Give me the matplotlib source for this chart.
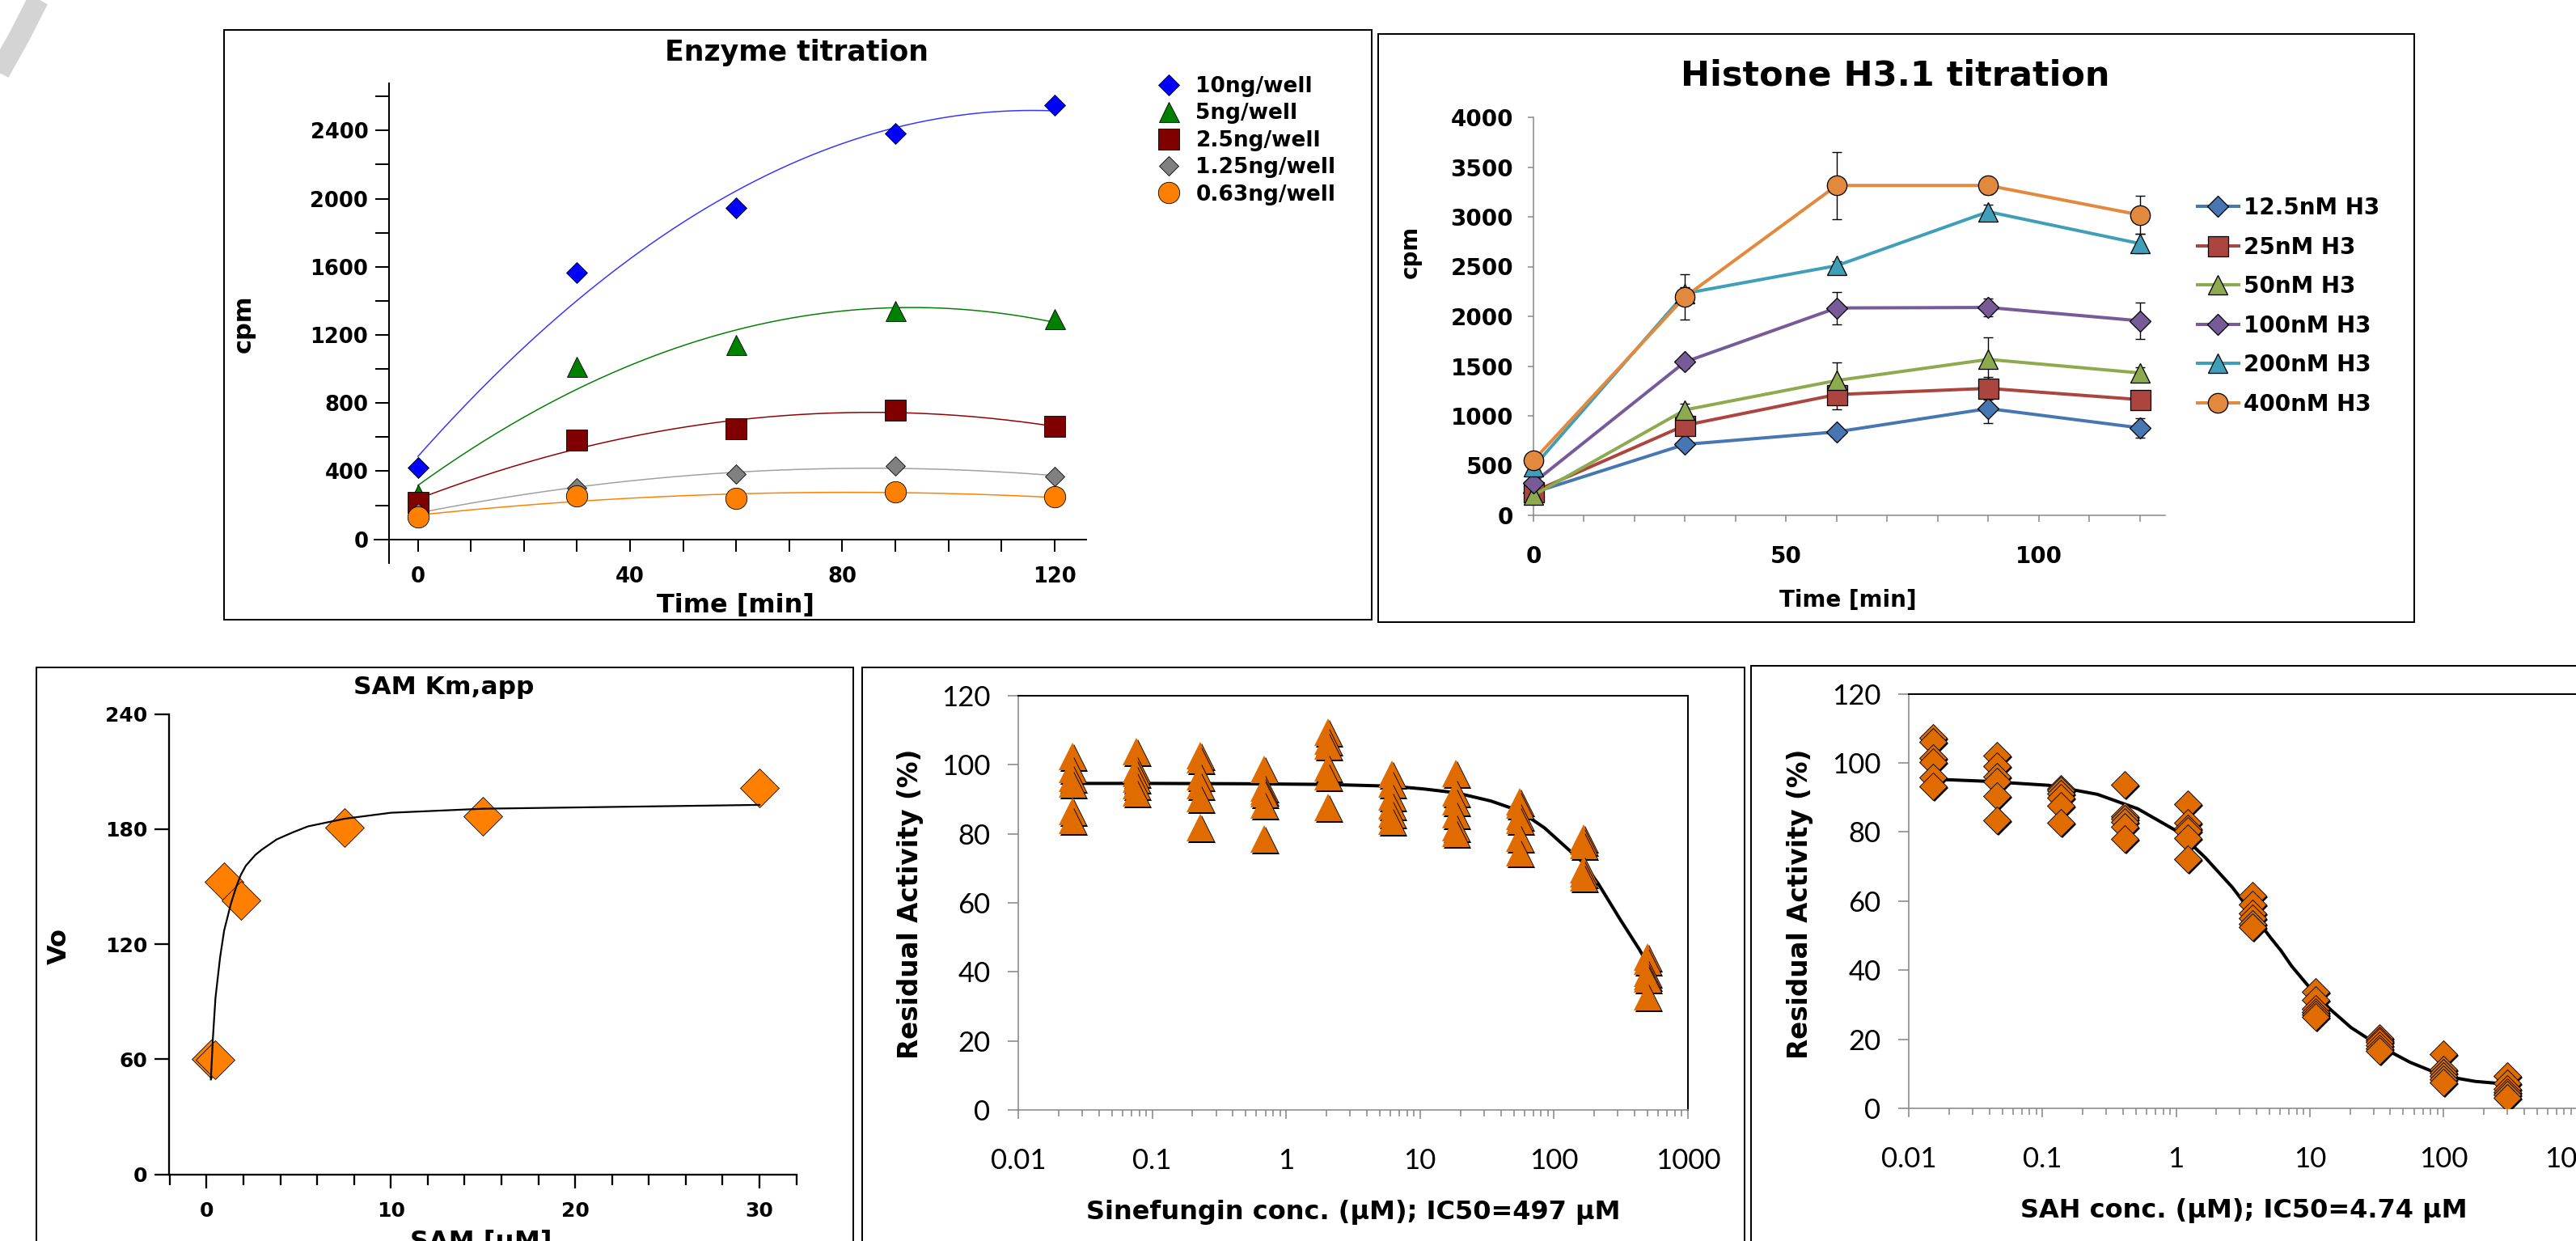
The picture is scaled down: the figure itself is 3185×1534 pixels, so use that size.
import numpy as np
import matplotlib
matplotlib.use("Agg")
import matplotlib.pyplot as plt
import matplotlib.transforms as mtransforms
from matplotlib.lines import Line2D
from matplotlib.patches import Rectangle
from matplotlib.ticker import LogLocator, NullFormatter

# ---------------- data ----------------
enz_time = [0, 30, 60, 90, 120]
enz_labels = ["10ng/well", "5ng/well", "2.5ng/well", "1.25ng/well", "0.63ng/well"]
enz_10 = [422, 1565, 1948, 2384, 2548]
enz_5 = [265, 1015, 1142, 1343, 1297]
enz_2_5 = [219, 584, 651, 757, 665]
enz_1_25 = [157, 305, 385, 431, 369]
enz_0_63 = [131, 254, 242, 277, 249]

h3_time = [0, 30, 60, 90, 120]
h3_labels = ["12.5nM H3", "25nM H3", "50nM H3", "100nM H3", "200nM H3", "400nM H3"]
h3_12_5 = [229, 713, 839, 1073, 879]
h3_25 = [236, 905, 1214, 1276, 1163]
h3_50 = [201, 1060, 1355, 1567, 1431]
h3_100 = [327, 1542, 2084, 2089, 1955]
h3_200 = [485, 2230, 2509, 3051, 2731]
h3_400 = [552, 2197, 3315, 3315, 3019]
h3_12_5_err = [30, 50, 30, 144, 100]
h3_25_err = [40, 60, 149, 114, 50]
h3_50_err = [90, 60, 179, 219, 60]
h3_100_err = [40, 60, 163, 88, 180]
h3_200_err = [40, 60, 40, 70, 100]
h3_400_err = [50, 228, 336, 86, 190]

sam_conc = [0.23, 0.47, 0.94, 1.875, 7.5, 15, 30]
sam_vo = [60.0, 59.7, 152.7, 142.9, 180.9, 186.8, 201.3]
sam_fit_conc = [0.23, 0.34, 0.48, 0.73, 0.95, 1.32, 1.61, 1.85, 2.12, 2.64, 3.0, 3.8, 4.68, 5.5,
                7.5, 10, 15, 30]
sam_fit_vo = [49.5, 71.0, 92.0, 113.1, 127.1, 141.2, 150.0, 156.0, 160.8, 166.5, 169.3, 174.6,
              178.3, 181.4, 185.4, 188.5, 190.6, 192.6]

sin_conc = [0.0254, 0.0762, 0.229, 0.686, 2.06, 6.17, 18.5, 55.6, 166.7, 500]
sin_resid = [
    [102.5, 98.6, 96.2, 94.4, 86.4, 84.0],
    [103.9, 98.6, 97.5, 95.8, 93.9, 91.8],
    [102.6, 101.5, 96.6, 93.9, 90.3, 81.8],
    [98.7, 93.2, 92.3, 91.6, 88.4, 78.6],
    [109.4, 106.8, 105.4, 99.2, 96.6, 87.7],
    [97.2, 94.5, 90.8, 88.1, 85.7, 83.7],
    [97.5, 91.8, 89.2, 85.5, 81.8, 80.1],
    [89.4, 88.4, 85.0, 84.0, 78.7, 74.5],
    [78.8, 77.9, 76.7, 69.6, 68.4, 67.3],
    [44.3, 43.1, 39.6, 38.7, 38.0, 32.8],
]
sin_fit_conc = [0.0254, 0.1, 0.5, 2.0, 6.17, 10.6, 18.5, 33.8, 55.6, 85, 142, 166.7, 216, 313, 432, 500]
sin_fit_resid = [94.6, 94.6, 94.5, 94.3, 93.8, 93.0, 91.9, 89.5, 86.6, 81.7, 73.9, 71.5, 65.3, 55.1, 46.6, 42.3]

sah_conc = [0.0152, 0.0457, 0.137, 0.41, 1.23, 3.7, 11.1, 33.3, 100, 300]
sah_resid = [
    [107.2, 106.2, 101.3, 100.3, 95.8, 93.2],
    [102.1, 99.0, 96.0, 94.6, 90.4, 83.4],
    [92.6, 92.0, 91.2, 90.0, 87.5, 82.6],
    [93.7, 84.5, 83.8, 83.0, 81.5, 78.1],
    [88.1, 82.6, 81.0, 80.3, 78.3, 72.1],
    [61.7, 59.0, 56.5, 55.0, 53.5, 52.5],
    [33.8, 31.3, 28.7, 27.9, 27.2, 26.4],
    [20.4, 19.7, 19.2, 18.3, 17.4, 16.7],
    [15.7, 11.2, 10.4, 9.4, 8.4, 7.6],
    [9.4, 7.3, 5.7, 4.8, 4.0, 3.1],
]
sah_fit_conc = [0.0152, 0.0366, 0.1117, 0.2576, 0.5176, 1.039, 1.65, 2.63, 3.7, 5.04, 6.07, 7.3,
                9.65, 14.0, 20.3, 33.3, 56.4, 100, 172, 300]
sah_fit_resid = [95.3, 94.7, 93.5, 90.9, 86.7, 80.0, 72.6, 64.0, 56.5, 49.6, 45.7, 41.2,
                 35.6, 28.9, 23.4, 18.0, 13.3, 9.4, 7.8, 7.0]

# ---------------- figure ----------------
W, H = 3185, 1534
DPI = 100
PX = 72.0 / DPI  # points per pixel

plt.rcParams['font.family'] = ['DejaVu Sans']
plt.rcParams['font.weight'] = 'bold'

fig = plt.figure(figsize=(W / DPI, H / DPI), dpi=DPI)
fig.patch.set_facecolor('white')


def rect(l, t, r, b):
    return [l / W, 1 - b / H, (r - l) / W, (b - t) / H]


def fx(x):
    return x / W


def fy(y):
    return 1 - y / H


# decorative grey arc in the corner
arc_px = [(64, -30), (47, 0), (24, 45), (0, 88), (-14, 116)]
fig.add_artist(Line2D([fx(p[0]) for p in arc_px], [fy(p[1]) for p in arc_px],
                      transform=fig.transFigure, color='#D4D4D4', lw=26 * PX,
                      solid_capstyle='butt', solid_joinstyle='round'))

# panel frames
for (l, t, r, b) in [(277, 37, 1696, 766), (1704, 42, 2985, 769), (45, 825, 1055, 1580),
                     (1066, 825, 2157, 1580), (2165, 823, 3240, 1580)]:
    fig.add_artist(Rectangle((fx(l), fy(b)), (r - l) / W, (b - t) / H, transform=fig.transFigure,
                             fill=False, edgecolor='black', lw=2 * PX))

# ---------------- Enzyme titration ----------------
ax1 = fig.add_axes(rect(463, 103, 1343, 696))
ax1.set_xlim(-8.2, 126)
ax1.set_ylim(-139, 2677)
ax1.patch.set_alpha(0)
for s in ['top', 'right']:
    ax1.spines[s].set_visible(False)
ax1.spines['left'].set_position(('data', -5.5))
ax1.spines['bottom'].set_position(('data', 0))
for s in ['left', 'bottom']:
    ax1.spines[s].set_linewidth(2 * PX)
ax1.set_xticks([0, 40, 80, 120])
ax1.set_xticks([10, 20, 30, 50, 60, 70, 90, 100, 110], minor=True)
ax1.set_yticks(list(range(0, 2401, 400)))
ax1.set_yticks(list(range(200, 2601, 400)), minor=True)
ax1.tick_params(axis='x', which='both', direction='out', length=15 * PX, width=2 * PX,
                labelsize=18.5, pad=13.5)
ax1.tick_params(axis='y', which='both', direction='out', length=17 * PX, width=2 * PX,
                labelsize=18.5, pad=6)

enz_series = [
    (enz_10, 'D', '#0000FF', 13, '#3535FF'),
    (enz_5, '^', '#008000', 18, '#008000'),
    (enz_2_5, 's', '#800000', 19, '#900000'),
    (enz_1_25, 'D', '#808080', 12.5, '#A0A0A0'),
    (enz_0_63, 'o', '#FF8000', 19, '#FF8000'),
]
tt = np.linspace(0, 120, 241)
for ys, m, c, ms, lc in enz_series:
    coef = np.polyfit(enz_time, ys, 2)
    ax1.plot(tt, np.polyval(coef, tt), color=lc, lw=1.5 * PX, zorder=2)
enz_handles = []
for (ys, m, c, ms, lc), lab in zip(enz_series, enz_labels):
    h, = ax1.plot(enz_time, ys, ls='none', marker=m, ms=ms, mfc=c, mec='black', mew=0.6,
                  clip_on=False, zorder=3, label=lab)
    enz_handles.append(h)
ax1.legend(handles=enz_handles, loc='upper left', bbox_to_anchor=(fx(1432), fy(94)),
           bbox_transform=fig.transFigure, frameon=False, fontsize=19, handlelength=1.0,
           handletextpad=0.76, labelspacing=0.28, borderpad=0, borderaxespad=0, numpoints=1)
fig.text(fx(985), fy(65), 'Enzyme titration', ha='center', va='center', fontsize=25)
fig.text(fx(910), fy(748), 'Time [min]', ha='center', va='center', fontsize=23)
fig.text(fx(301), fy(400), 'cpm', rotation=90, ha='center', va='center', fontsize=22)

# ---------------- Histone H3.1 titration ----------------
ax2 = fig.add_axes(rect(1896, 145, 2677, 637))
ax2.set_xlim(0, 125)
ax2.set_ylim(0, 4000)
ax2.patch.set_alpha(0)
for s in ['top', 'right']:
    ax2.spines[s].set_visible(False)
for s in ['left', 'bottom']:
    ax2.spines[s].set_color('#868686')
    ax2.spines[s].set_linewidth(1.5 * PX)
ax2.set_xticks([0, 50, 100])
ax2.set_xticks([10, 20, 30, 40, 60, 70, 80, 90, 110, 120], minor=True)
ax2.set_yticks(list(range(0, 4001, 500)))
ax2.tick_params(axis='x', which='both', direction='out', length=8 * PX, width=1.5 * PX,
                color='#868686', labelsize=20, pad=21)
ax2.tick_params(axis='y', which='both', direction='out', length=7 * PX, width=1.5 * PX,
                color='#868686', labelsize=20, pad=13)

h3_series = [
    (h3_12_5, h3_12_5_err, 'D', '#4677B2', 12.8),
    (h3_25, h3_25_err, 's', '#AC4540', 18),
    (h3_50, h3_50_err, '^', '#8DAA4F', 17.5),
    (h3_100, h3_100_err, 'D', '#765B98', 12.8),
    (h3_200, h3_200_err, '^', '#409FB8', 17.5),
    (h3_400, h3_400_err, 'o', '#E3893D', 17.5),
]
for ys, err, m, c, ms in h3_series:
    ax2.errorbar(h3_time, ys, yerr=err, fmt='none', ecolor='black', elinewidth=1.4 * PX,
                 capsize=6 * PX, capthick=1.4 * PX, clip_on=False, zorder=2)
h3_handles = []
for (ys, err, m, c, ms), lab in zip(h3_series, h3_labels):
    h, = ax2.plot(h3_time, ys, color=c, lw=4 * PX, marker=m, ms=ms, mfc=c, mec='black',
                  mew=1.3 * PX, clip_on=False, zorder=3, label=lab)
    h3_handles.append(h)
ax2.legend(handles=h3_handles, loc='upper left', bbox_to_anchor=(fx(2717), fy(243)),
           bbox_transform=fig.transFigure, frameon=False, fontsize=20, handlelength=1.83,
           handletextpad=0.22, labelspacing=0.74, borderpad=0, borderaxespad=0, numpoints=1)
fig.text(fx(2343), fy(93), 'Histone H3.1 titration', ha='center', va='center', fontsize=31)
fig.text(fx(2285), fy(742), 'Time [min]', ha='center', va='center', fontsize=20)
fig.text(fx(1744), fy(311), 'cpm', rotation=90, ha='center', va='center', fontsize=20)

# ---------------- SAM Km,app ----------------
ax3 = fig.add_axes(rect(209, 882.5, 985, 1451.7))
ax3.set_xlim(-2.04, 32.02)
ax3.set_ylim(0, 240)
ax3.patch.set_alpha(0)
for s in ['top', 'right']:
    ax3.spines[s].set_visible(False)
for s in ['left', 'bottom']:
    ax3.spines[s].set_linewidth(2.3 * PX)
ax3.set_xticks([0, 10, 20, 30])
ax3.set_xticks([-2, 2, 4, 6, 8, 12, 14, 16, 18, 22, 24, 26, 28, 32], minor=True)
ax3.set_yticks([0, 60, 120, 180, 240])
ax3.tick_params(axis='x', which='major', direction='out', length=17 * PX, width=2.3 * PX,
                labelsize=18, pad=12)
ax3.tick_params(axis='x', which='minor', direction='out', length=13 * PX, width=2.3 * PX)
ax3.tick_params(axis='y', which='major', direction='out', length=18 * PX, width=2.3 * PX,
                labelsize=18, pad=6)
ax3.plot(sam_conc, sam_vo, ls='none', marker='D', ms=24.4, mfc='#FF8000', mec='black',
         mew=0.8 * PX, clip_on=False, zorder=2)
ax3.plot(sam_fit_conc, sam_fit_vo, color='black', lw=2.2 * PX, zorder=3,
         solid_joinstyle='round')
fig.text(fx(549), fy(849), 'SAM Km,app', ha='center', va='center', fontsize=22.5)
fig.text(fx(73), fy(1170), 'Vo', rotation=90, ha='center', va='center', fontsize=23)
fig.text(fx(595), fy(1544), 'SAM [µM]', ha='center', va='baseline', fontsize=23)


# ---------------- dose-response panels ----------------
def dose_axes(l, t, r, b):
    ax = fig.add_axes(rect(l, t, r, b))
    ax.set_xscale('log')
    ax.set_xlim(0.01, 1000)
    ax.set_ylim(0, 120)
    for s in ['left', 'bottom']:
        ax.spines[s].set_color('#898989')
        ax.spines[s].set_linewidth(1.6 * PX)
    for s in ['top', 'right']:
        ax.spines[s].set_color('black')
        ax.spines[s].set_linewidth(2 * PX)
    ax.set_xticks([0.01, 0.1, 1, 10, 100, 1000],
                  labels=['0.01', '0.1', '1', '10', '100', '1000'])
    ax.xaxis.set_minor_locator(LogLocator(base=10, subs=np.arange(2, 10), numticks=30))
    ax.xaxis.set_minor_formatter(NullFormatter())
    ax.set_yticks([0, 20, 40, 60, 80, 100, 120],
                  labels=['0', '20', '40', '60', '80', '100', '120'])
    ax.tick_params(axis='x', which='major', direction='out', length=11 * PX, width=1.6 * PX,
                   color='#898989', pad=26)
    ax.tick_params(axis='x', which='minor', direction='out', length=8 * PX, width=1.6 * PX,
                   color='#898989')
    ax.tick_params(axis='y', which='major', direction='out', length=13 * PX, width=1.6 * PX,
                   color='#898989', pad=15.5)
    for lab in ax.get_xticklabels() + ax.get_yticklabels():
        lab.set_fontfamily('Lato')
        lab.set_fontweight('normal')
        lab.set_fontsize(25)
    return ax


ax4 = dose_axes(1259, 860, 2087, 1372)
shadow4 = mtransforms.offset_copy(ax4.transData, fig=fig, x=2 * PX, y=-2 * PX, units='points')
ax4.plot(sin_fit_conc, sin_fit_resid, color='black', lw=4 * PX, zorder=2,
         solid_joinstyle='round', solid_capstyle='round')
for j in range(len(sin_resid[0])):
    ys = [row[j] for row in sin_resid]
    ax4.plot(sin_conc, ys, ls='none', marker='^', ms=25, mfc='black', mec='black', mew=0,
             transform=shadow4, zorder=3)
    ax4.plot(sin_conc, ys, ls='none', marker='^', ms=25, mfc='#E06C00', mec='#E06C00', mew=0,
             zorder=3)
fig.text(fx(1125), fy(1117), 'Residual Activity (%)', rotation=90, ha='center', va='center',
         fontsize=23.5)
fig.text(fx(1673), fy(1498), 'Sinefungin conc. (µM); IC50=497 µM', ha='center', va='center',
         fontsize=23)

ax5 = dose_axes(2360, 857.6, 3186.5, 1370)
shadow5 = mtransforms.offset_copy(ax5.transData, fig=fig, x=2 * PX, y=-2 * PX, units='points')
ax5.plot(sah_fit_conc, sah_fit_resid, color='black', lw=4 * PX, zorder=2,
         solid_joinstyle='round', solid_capstyle='round')
for j in range(len(sah_resid[0])):
    ys = [row[j] for row in sah_resid]
    ax5.plot(sah_conc, ys, ls='none', marker='D', ms=17.8, mfc='black', mec='black', mew=0,
             transform=shadow5, zorder=3)
    ax5.plot(sah_conc, ys, ls='none', marker='D', ms=17.8, mfc='#E06C00', mec='black',
             mew=0.9 * PX, zorder=3)
fig.text(fx(2226), fy(1117), 'Residual Activity (%)', rotation=90, ha='center', va='center',
         fontsize=23.5)
fig.text(fx(2774), fy(1496), 'SAH conc. (µM); IC50=4.74 µM', ha='center', va='center',
         fontsize=23)

fig.savefig('out.png', dpi=DPI)
